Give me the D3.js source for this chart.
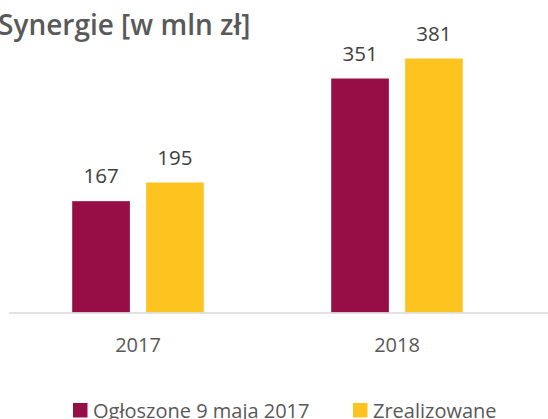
<!DOCTYPE html>
<html><head><meta charset="utf-8">
<script src="https://cdn.jsdelivr.net/npm/d3@7"></script>
<style>body{margin:0;background:#fff}svg{display:block}</style>
</head><body>
<svg id="c" width="548" height="419"></svg>
<script>
const categories = ["2017", "2018"];
const seriesNames = ["Ogłoszone 9 maja 2017", "Zrealizowane"];
const announced = [167, 351];
const realized = [195, 381];
const colors = ["#970E47", "#FDC41F"];

const svg = d3.select("#c");
const font = "'Open Sans', 'Segoe UI', sans-serif";
const baseY = 312.5;
const x = d3.scaleBand().domain(categories).range([8.5, 526.5]);
const xs = d3.scaleBand().domain(seriesNames).range([x.bandwidth()*0.246, x.bandwidth()*0.754]).paddingInner(0.22);
const y = d3.scaleLinear().domain([0, 381]).range([baseY, 58.5]);

svg.append("text").attr("x", -2).attr("y", 35).attr("font-family", font).attr("font-weight", 600)
  .attr("font-size", 28).attr("fill", "#595959").text("Synergie [w mln zł]");

const data = [];
categories.forEach((c, i) => {
  data.push({c, s: seriesNames[0], v: announced[i], col: colors[0]});
  data.push({c, s: seriesNames[1], v: realized[i], col: colors[1]});
});

svg.selectAll("rect.bar").data(data).enter().append("rect").attr("class", "bar")
  .attr("x", d => x(d.c) + xs(d.s)).attr("width", xs.bandwidth())
  .attr("y", d => y(d.v)).attr("height", d => baseY - y(d.v)).attr("fill", d => d.col);

svg.selectAll("text.val").data(data).enter().append("text").attr("class", "val")
  .attr("x", d => x(d.c) + xs(d.s) + xs.bandwidth()/2).attr("y", d => y(d.v) - 18)
  .attr("text-anchor", "middle").attr("font-family", font).attr("font-size", 20.5).attr("fill", "#404040")
  .text(d => d.v);

svg.append("line").attr("x1", 9).attr("x2", 548).attr("y1", baseY + 0.5).attr("y2", baseY + 0.5)
  .attr("stroke", "#d9d9d9").attr("stroke-width", 1.5);

const xAxis = svg.append("g").attr("transform", `translate(0,${baseY})`)
  .call(d3.axisBottom(x).tickSize(0).tickPadding(0));
xAxis.select(".domain").remove();
xAxis.selectAll("text").attr("y", 39.5).attr("dy", null).attr("font-family", font).attr("font-size", 20).attr("fill", "#595959");

const legX = [73, 353];
const leg = svg.selectAll("g.leg").data(seriesNames).enter().append("g").attr("class", "leg")
  .attr("transform", (d, i) => `translate(${legX[i]},403)`);
leg.append("rect").attr("width", 14.5).attr("height", 14.5).attr("fill", (d, i) => colors[i]);
leg.append("text").attr("x", 20).attr("y", 14.5).attr("font-family", font).attr("font-size", 20)
  .attr("fill", "#595959").text(d => d);
</script>
</body></html>
